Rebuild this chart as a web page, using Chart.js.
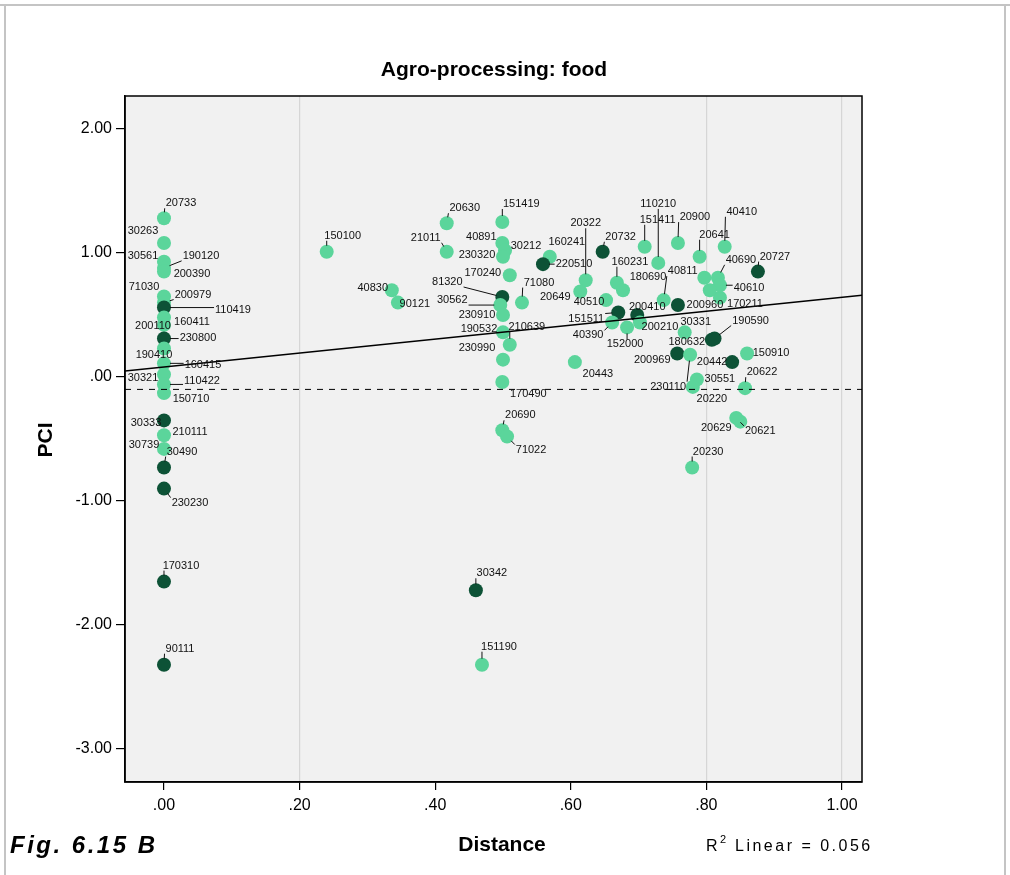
<!DOCTYPE html>
<html>
<head>
<meta charset="utf-8">
<script src="https://cdn.jsdelivr.net/npm/chart.js@4.4.1/dist/chart.umd.min.js"></script>
<style>
  html, body { margin: 0; padding: 0; background: #fff; }
  #wrap { width: 1010px; height: 875px; }
</style>
</head>
<body>
<div id="wrap"><canvas id="chart" width="1010" height="875"></canvas></div>
<script>
// point labels (region codes), distance, PCI, and group (0 = light, 1 = dark)
const pointIds = [
  "20733", "30263", "30561", "190120", "200390", "71030", "200979", "110419", "200110", "160411",
  "230800", "190410", "160415", "30321", "110422", "150710", "30333", "210111", "30739", "30490",
  "230230", "170310", "90111",
  "150100", "40830", "90121", "20630", "21011", "151419", "40891", "30212", "230320", "170240",
  "81320", "30562", "230910", "190532", "210639", "230990", "170490", "20690", "71022", "71080",
  "30342", "151190",
  "160241", "220510", "20322", "20732", "151411", "110210", "20900", "160231", "180690", "20649",
  "40510", "40811", "200410", "151511", "200210", "30331", "200960", "170211", "40390", "152000",
  "180632", "190590", "200969", "20442", "230110", "30551", "20220", "20443", "150910", "20622",
  "20629", "20621", "20230", "40410", "20641", "40690", "20727", "40610", "", ""
];
const distance = [
  0, 0, 0, 0, 0, 0, 0, 0, 0, 0,
  0, 0, 0, 0, 0, 0, 0, 0, 0, 0,
  0, 0, 0,
  0.240, 0.336, 0.345, 0.417, 0.417, 0.499, 0.499, 0.503, 0.500, 0.510,
  0.499, 0.496, 0.500, 0.500, 0.510, 0.500, 0.499, 0.499, 0.506, 0.528,
  0.460, 0.469,
  0.569, 0.559, 0.622, 0.647, 0.709, 0.729, 0.758, 0.668, 0.677, 0.614,
  0.652, 0.737, 0.698, 0.670, 0.702, 0.768, 0.758, 0.820, 0.661, 0.683,
  0.808, 0.812, 0.757, 0.838, 0.776, 0.786, 0.780, 0.606, 0.860, 0.857,
  0.850, 0.844, 0.779, 0.827, 0.790, 0.817, 0.876, 0.820, 0.797, 0.805
];
const pci = [
  1.28, 1.08, 0.93, 0.88, 0.85, 0.65, 0.60, 0.56, 0.48, 0.42,
  0.31, 0.23, 0.11, 0.02, -0.06, -0.13, -0.35, -0.47, -0.58, -0.73,
  -0.90, -1.65, -2.32,
  1.01, 0.70, 0.60, 1.24, 1.01, 1.25, 1.08, 1.02, 0.97, 0.82,
  0.645, 0.58, 0.50, 0.36, 0.26, 0.14, -0.04, -0.43, -0.48, 0.60,
  -1.72, -2.32,
  0.97, 0.91, 0.78, 1.01, 1.05, 0.92, 1.08, 0.76, 0.70, 0.69,
  0.62, 0.62, 0.50, 0.52, 0.44, 0.36, 0.58, 0.64, 0.44, 0.40,
  0.30, 0.31, 0.19, 0.12, 0.18, -0.02, -0.08, 0.12, 0.19, -0.09,
  -0.36, -0.33, -0.73, 1.05, 0.97, 0.80, 0.85, 0.74, 0.80, 0.70
];
const group = [
  0, 0, 0, 0, 0, 0, 0, 1, 0, 0,
  1, 0, 0, 0, 0, 0, 1, 0, 0, 1,
  1, 1, 1,
  0, 0, 0, 0, 0, 0, 0, 0, 0, 0,
  1, 0, 0, 0, 0, 0, 0, 0, 0, 0,
  1, 0,
  0, 1, 0, 1, 0, 0, 0, 0, 0, 0,
  0, 0, 1, 1, 0, 0, 1, 0, 0, 0,
  1, 1, 1, 1, 0, 0, 0, 0, 0, 0,
  0, 0, 0, 0, 0, 0, 1, 0, 0, 0
];

// linear fit and reference line
const fitX = [-0.0575, 1.0295];
const fitY = [0.048, 0.66];
const refLineY = -0.10;
const rSquared = "0.056";

const xTicks = [0, 0.2, 0.4, 0.6, 0.8, 1.0];
const yTicks = [-3, -2, -1, 0, 1, 2];
const xRange = [-0.0575, 1.0295];
const yRange = [-3.266, 2.266];
const faintGridX = [0.2, 0.8, 1.0];

// label placement (pixel offset of label centre from its point)
const labelOffsets = [
  [17, -15], [-21, -12], [-21, -6], [37, -12], [28, 2], [-20, -9], [29, -8], [69, 2], [-11, 8], [28, -3],
  [34, -1], [-10, 6], [39, 2], [-21, 3], [38, -3], [27, 6], [-18, 3], [26, -3], [-20, -4], [18, -16],
  [26, 14], [17, -16], [16, -16],
  [16, -16], [-19, -2], [17, 1], [18, -15], [-21, -14], [19, -18], [-21, -6], [21, -5], [-26, -2], [-27, -2],
  [-55, -15], [-48, -5], [-26, 0], [-24, -3], [17, -18], [-26, -12], [26, 12], [18, -15], [24, 13], [17, -20],
  [16, -17], [17, -18],
  [17, -15], [31, 0], [0, -57], [18, -15], [13, -27], [0, -59], [17, -26], [13, -21], [25, -13], [-25, 6],
  [-17, 2], [19, -29], [10, -8], [-32, 6], [20, 5], [11, -10], [27, 0], [25, 6], [-24, 13], [-2, 17],
  [-25, 2], [36, -18], [-25, 7], [-20, 0], [-22, 32], [23, -1], [19, 12], [23, 12], [24, 0], [17, -16],
  [-24, 6], [24, 13], [16, -16], [17, -35], [15, -22], [23, -18], [17, -15], [29, 3], [0, 0], [0, 0]
];

const LIGHT = "#5bd59b";
const DARK = "#0d5236";
const POINT_R = 7;

const points = distance.map((d, i) => ({ x: d, y: pci[i] }));

function fmt(v) {
  const s = Math.abs(v).toFixed(2);
  const t = s.startsWith("0") ? s.slice(1) : s;
  return (v < 0 ? "-" : "") + t;
}

const decorPlugin = {
  id: "decor",
  beforeDraw(chart) {
    const { ctx, chartArea: a } = chart;
    ctx.save();
    ctx.fillStyle = "#fff";
    ctx.fillRect(0, 0, chart.width, chart.height);
    // outer frame
    ctx.strokeStyle = "#c4c4c4";
    ctx.lineWidth = 2;
    ctx.beginPath();
    ctx.moveTo(0, 5); ctx.lineTo(chart.width, 5);
    ctx.moveTo(5, 5); ctx.lineTo(5, chart.height);
    ctx.moveTo(1005, 5); ctx.lineTo(1005, chart.height);
    ctx.stroke();
    // plot background
    ctx.fillStyle = "#f1f1f1";
    ctx.fillRect(a.left, a.top, a.right - a.left, a.bottom - a.top);
    ctx.restore();
  },
  afterDatasetsDraw(chart) {
    const { ctx, chartArea: a } = chart;
    const meta = chart.getDatasetMeta(0);
    ctx.save();
    ctx.font = "11px Arial, 'Liberation Sans', sans-serif";
    ctx.textAlign = "center";
    ctx.textBaseline = "middle";
    ctx.fillStyle = "#111";
    ctx.strokeStyle = "#111";
    ctx.lineWidth = 1;
    meta.data.forEach((el, i) => {
      const id = pointIds[i];
      if (!id) return;
      const [dx, dy] = labelOffsets[i];
      const px = el.x, py = el.y;
      const cx = px + dx, cy = py + dy;
      const w = ctx.measureText(id).width;
      const nx = Math.min(Math.max(px, cx - w / 2 - 1), cx + w / 2 + 1);
      const ny = Math.min(Math.max(py, cy - 5), cy + 5);
      const d = Math.hypot(nx - px, ny - py);
      if (d > POINT_R + 3) {
        ctx.beginPath();
        ctx.moveTo(px + (nx - px) / d * (POINT_R - 1), py + (ny - py) / d * (POINT_R - 1));
        ctx.lineTo(nx, ny);
        ctx.stroke();
      }
      ctx.fillText(id, cx, cy);
    });
    // plot box top/right
    ctx.strokeStyle = "#000";
    ctx.lineWidth = 1.5;
    ctx.strokeRect(a.left, a.top, a.right - a.left, a.bottom - a.top);
    ctx.restore();
  },
  afterDraw(chart) {
    const { ctx } = chart;
    ctx.save();
    ctx.fillStyle = "#000";
    ctx.textBaseline = "middle";
    ctx.textAlign = "center";
    ctx.font = "bold 21px Arial, 'Liberation Sans', sans-serif";
    ctx.fillText("Agro-processing: food", 494, 70);
    ctx.fillText("Distance", 502, 845);
    ctx.save();
    ctx.translate(46, 440);
    ctx.rotate(-Math.PI / 2);
    ctx.fillText("PCI", 0, 0);
    ctx.restore();
    ctx.textAlign = "left";
    ctx.letterSpacing = "2.5px";
    ctx.font = "italic bold 24px Arial, 'Liberation Sans', sans-serif";
    ctx.fillText("Fig. 6.15 B", 10, 846);
    ctx.letterSpacing = "2.5px";
    ctx.font = "16px Arial, 'Liberation Sans', sans-serif";
    ctx.fillText("R", 706, 847);
    const rw = ctx.measureText("R").width;
    ctx.font = "11px Arial, 'Liberation Sans', sans-serif";
    ctx.fillText("2", 706 + rw, 840);
    ctx.font = "16px Arial, 'Liberation Sans', sans-serif";
    ctx.fillText(" Linear = " + rSquared, 706 + rw + 8, 847);
    ctx.restore();
  }
};

new Chart(document.getElementById("chart"), {
  type: "scatter",
  data: {
    datasets: [
      {
        data: points,
        pointRadius: POINT_R,
        pointHoverRadius: POINT_R,
        pointBorderWidth: 0,
        pointBackgroundColor: c => group[c.dataIndex] ? DARK : LIGHT,
        order: 2
      },
      {
        type: "line",
        data: fitX.map((x, i) => ({ x, y: fitY[i] })),
        borderColor: "#000",
        borderWidth: 1.5,
        pointRadius: 0,
        order: 1
      },
      {
        type: "line",
        data: xRange.map(x => ({ x, y: refLineY })),
        borderColor: "#000",
        borderWidth: 1,
        borderDash: [6, 6],
        pointRadius: 0,
        order: 1
      }
    ]
  },
  options: {
    responsive: false,
    animation: false,
    layout: { padding: { top: 96, right: 148, left: 0, bottom: 0 } },
    plugins: { legend: { display: false }, tooltip: { enabled: false }, title: { display: false } },
    scales: {
      x: {
        type: "linear",
        min: xRange[0],
        max: xRange[1],
        afterBuildTicks: s => { s.ticks = xTicks.map(v => ({ value: v })); },
        afterFit: s => { s.height = 93; },
        ticks: {
          callback: v => fmt(v),
          color: "#000",
          font: { family: "Arial, 'Liberation Sans', sans-serif", size: 16 },
          padding: 6,
          maxRotation: 0,
          autoSkip: false
        },
        grid: {
          drawOnChartArea: true,
          color: c => faintGridX.some(v => Math.abs(c.tick.value - v) < 1e-6) ? "#d6d6d6" : "rgba(0,0,0,0)",
          tickColor: "#000",
          tickLength: 8,
          lineWidth: 1.2
        },
        border: { display: true, color: "#000", width: 1.5 }
      },
      y: {
        type: "linear",
        min: yRange[0],
        max: yRange[1],
        afterBuildTicks: s => { s.ticks = yTicks.map(v => ({ value: v })); },
        afterFit: s => { s.width = 125; },
        ticks: {
          callback: v => fmt(v),
          color: "#000",
          font: { family: "Arial, 'Liberation Sans', sans-serif", size: 16 },
          padding: 4,
          autoSkip: false
        },
        grid: {
          drawOnChartArea: false,
          tickColor: "#000",
          tickLength: 9,
          lineWidth: 1.2
        },
        border: { display: true, color: "#000", width: 1.5 }
      }
    }
  },
  plugins: [decorPlugin]
});
</script>
</body>
</html>
